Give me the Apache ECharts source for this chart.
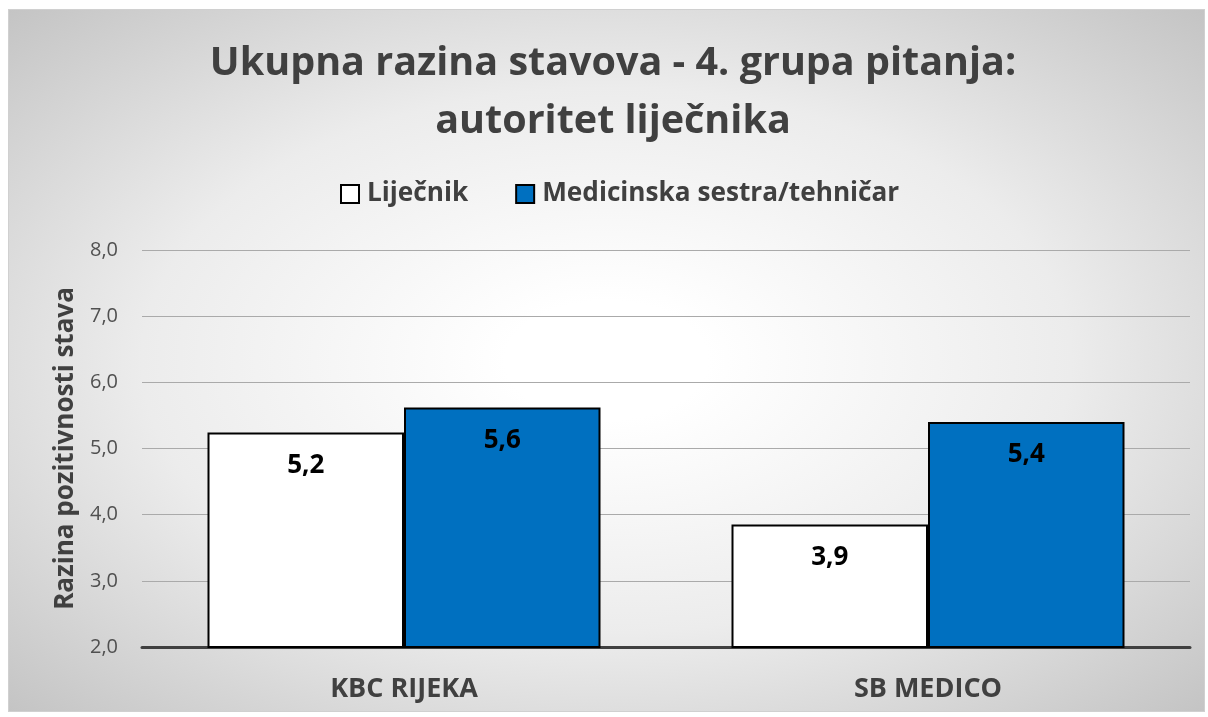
<!DOCTYPE html>
<html>
<head>
<meta charset="utf-8">
<script src="https://cdn.jsdelivr.net/npm/echarts@6/dist/echarts.min.js"></script>
<style>
  html, body { margin: 0; padding: 0; background: #ffffff; }
  #panel {
    position: absolute; left: 8px; top: 9px; width: 1197px; height: 703px;
    background: radial-gradient(ellipse farthest-corner at 50% 50%, #ffffff 12%, #ececec 55%, #c4c4c4 100%);
    border: 1px solid #d0d0d0; box-sizing: border-box;
  }
  #chart { position: absolute; left: 0; top: 0; width: 1208px; height: 717px; }
</style>
</head>
<body>
<div id="panel"></div>
<div id="chart"></div>
<script>
const categories = ['KBC RIJEKA', 'SB MEDICO']
const seriesNames = ['Liječnik', 'Medicinska sestra/tehničar']
const lijecnik = [5.24, 3.85]
const sestra = [5.62, 5.40]

const fmt = v => v.toFixed(1).replace('.', ',')

const chart = echarts.init(document.getElementById('chart'))

const barLabel = {
  show: true,
  position: 'insideTop',
  distance: 20,
  color: '#000000',
  fontSize: 26,
  fontWeight: 'bold',
  fontFamily: 'Open Sans',
  formatter: p => fmt(p.value)
}

const option = {
  backgroundColor: 'transparent',
  animation: false,
  title: {
    text: 'Ukupna razina stavova - 4. grupa pitanja:\nautoritet liječnika',
    left: 608,
    textAlign: 'center',
    top: 30,
    textStyle: {
      color: '#404040',
      fontSize: 39.5,
      fontWeight: 'bold',
      fontFamily: 'Open Sans',
      lineHeight: 58
    }
  },
  legend: {
    top: 176,
    left: 335,
    itemWidth: 18,
    itemHeight: 18,
    itemGap: 47,
    icon: 'rect',
    textStyle: {
      color: '#404040',
      fontSize: 26.2,
      fontWeight: 'bold',
      fontFamily: 'Open Sans',
      padding: [0, 0, 0, 3]
    },
    data: seriesNames
  },
  grid: {
    left: 142,
    right: 18,
    top: 250,
    bottom: 70
  },
  xAxis: {
    type: 'category',
    data: categories,
    axisTick: { show: false },
    axisLine: { lineStyle: { color: '#404040', width: 3 } },
    axisLabel: {
      color: '#404040',
      fontSize: 27,
      fontWeight: 'bold',
      fontFamily: 'Open Sans',
      margin: 29
    }
  },
  yAxis: {
    type: 'value',
    min: 2,
    max: 8,
    interval: 1,
    name: 'Razina pozitivnosti stava',
    nameLocation: 'middle',
    nameGap: 62,
    nameTextStyle: {
      color: '#404040',
      fontSize: 26,
      fontWeight: 'bold',
      fontFamily: 'Open Sans'
    },
    axisLine: { show: false },
    axisTick: { show: false },
    axisLabel: {
      color: '#505050',
      fontSize: 20,
      fontFamily: 'Open Sans',
      margin: 24,
      formatter: v => fmt(v)
    },
    splitLine: { lineStyle: { color: '#aaaaaa', width: 1 } }
  },
  series: [
    {
      name: seriesNames[0],
      type: 'bar',
      data: lijecnik,
      barGap: '0%',
      barCategoryGap: '25%',
      itemStyle: { color: '#ffffff', borderColor: '#000000', borderWidth: 2 },
      label: barLabel
    },
    {
      name: seriesNames[1],
      type: 'bar',
      data: sestra,
      itemStyle: { color: '#0070c0', borderColor: '#000000', borderWidth: 2 },
      label: barLabel
    }
  ]
}

chart.setOption(option)
</script>
</body>
</html>
